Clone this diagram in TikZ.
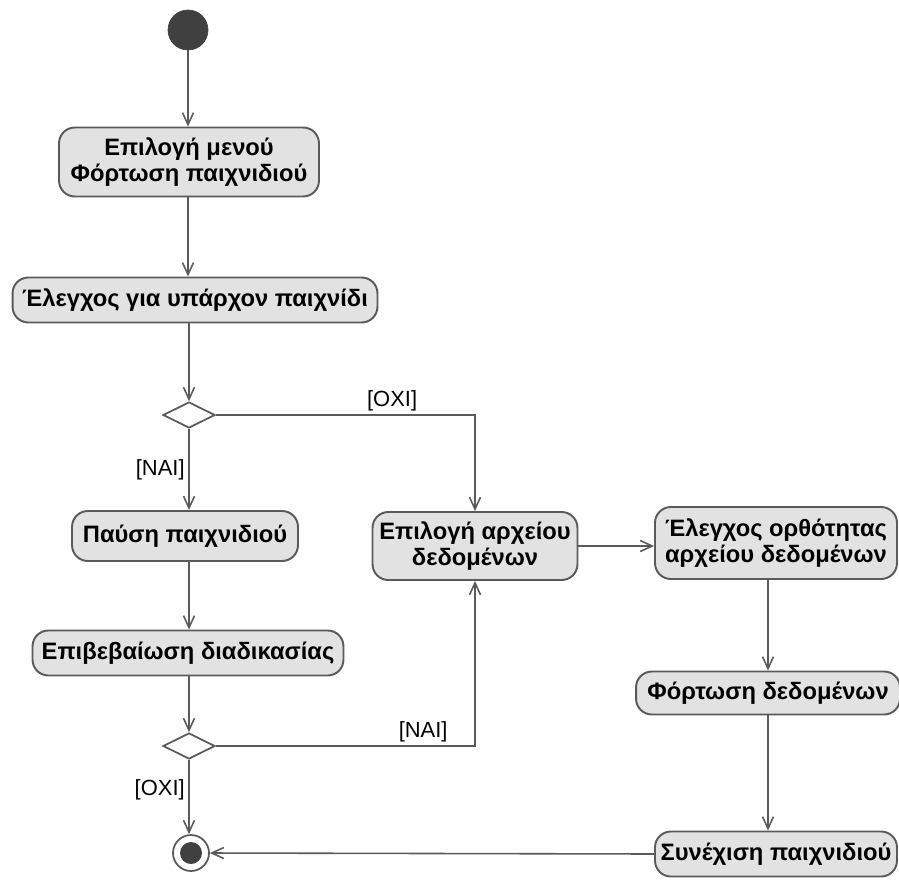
\documentclass[tikz,border=0pt]{standalone}
\usepackage{fontspec}
\setmainfont{Liberation Sans}
\usetikzlibrary{arrows.meta,positioning,shapes.geometric}
\definecolor{boxgray}{HTML}{E2E2E2}
\definecolor{linegray}{HTML}{5A5A5A}
\definecolor{dotgray}{HTML}{404040}

\begin{document}
\begin{tikzpicture}[x=0.02cm,y=-0.02cm,
every node/.style={font=\bfseries\fontsize{13.5}{14.5}\selectfont},
act/.style={draw=linegray,fill=boxgray,rounded corners=9pt,line width=1.1pt,align=center,inner sep=0pt},
dec/.style={diamond,aspect=2,draw=linegray,fill=white,line width=1pt,minimum width=1.04cm,minimum height=0.52cm,inner sep=0pt},
init/.style={circle,fill=dotgray,draw=dotgray,minimum size=0.8cm,inner sep=0pt},
endring/.style={circle,draw=linegray,fill=white,line width=1pt,minimum size=0.72cm,inner sep=0pt},
enddot/.style={circle,fill=dotgray,minimum size=0.44cm,inner sep=0pt},
guard/.style={font=\fontsize{12.5}{14}\selectfont,inner sep=2pt},
flow/.style={draw=linegray,line width=0.9pt,-{Straight Barb[length=0.24cm,width=0.22cm]}}]
\useasboundingbox (0,0) rectangle (899,879);

% left column
\node[init] (start) at (188,30) {};
\node[act,minimum width=5.2cm,minimum height=1.38cm] (menu) at (189,162) {Επιλογή μενού\\Φόρτωση παιχνιδιού};
\node[act,minimum width=7.3cm,minimum height=0.9cm] (check) at (195,300) {Έλεγχος για υπάρχον παιχνίδι};
\node[dec] (q1) at (189,415) {};
\node[act,minimum width=4.52cm,minimum height=1cm] (pause) at (185,536) {Παύση παιχνιδιού};
\node[act,minimum width=6.22cm,minimum height=0.9cm] (confirm) at (188,653) {Επιβεβαίωση διαδικασίας};
\node[dec] (q2) at (189,746) {};
\node[endring] (final) at (191,853) {};
\node[enddot] (finaldot) at (final) {};

% middle and right
\node[act,minimum width=4.1cm,minimum height=1.36cm] (file) at (475,546) {Επιλογή αρχείου\\δεδομένων};
\node[act,minimum width=4.84cm,minimum height=1.44cm] (valid) at (776,543) {Έλεγχος ορθότητας\\αρχείου δεδομένων};
\node[act,minimum width=5.28cm,minimum height=0.86cm] (load) at (768,693) {Φόρτωση δεδομένων};
\node[act,minimum width=4.84cm,minimum height=0.9cm] (resume) at (776,854) {Συνέχιση παιχνιδιού};

% flows
\draw[flow] (start) -- (start |- menu.north);
\draw[flow] (menu.south -| start) -- (check.north -| start);
\draw[flow] (check.south -| q1) -- (q1.north);
\draw[flow] (q1.south) -- node[guard,left]{[ΝΑΙ]} (pause.north -| q1);
\draw[flow] (q1.east) -| node[guard,pos=0.34,above]{[ΟΧΙ]} (file.north);
\draw[flow] (pause.south -| q1) -- (confirm.north -| q1);
\draw[flow] (confirm.south -| q2) -- (q2.north);
\draw[flow] (q2.south) -- node[guard,left,pos=0.4]{[ΟΧΙ]} (final.north -| q2);
\draw[flow] (q2.east) -| node[guard,pos=0.4,above]{[ΝΑΙ]} (file.south);
\draw[flow] (file.east) -- (file.east -| valid.west);
\draw[flow] (valid.south -| load) -- (load.north);
\draw[flow] (load.south) -- (load.south |- resume.north);
\draw[flow] (resume.west) -- (final.east);
\end{tikzpicture}
\end{document}
